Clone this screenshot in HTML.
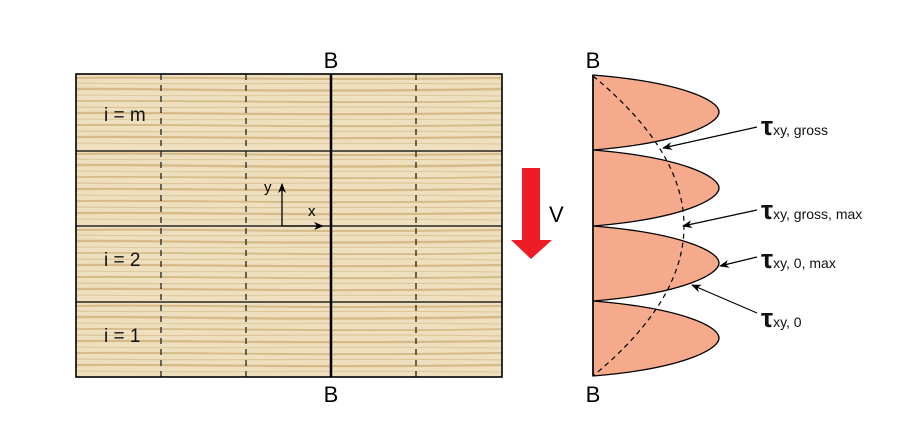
<!DOCTYPE html>
<html><head><meta charset="utf-8"><style>
html,body{margin:0;padding:0;background:#fff;}
svg{display:block;font-family:"Liberation Sans",sans-serif;}
</style></head><body>
<svg width="920" height="447" viewBox="0 0 920 447" xmlns="http://www.w3.org/2000/svg">
<defs>
<pattern id="wood" x="76" y="74" width="426" height="76" patternUnits="userSpaceOnUse">
<rect width="426" height="76" fill="#eedfbe"/>
<g fill="none" stroke="#d6bb88" stroke-linecap="round">
<path d="M0,4 C100,2 200,7 426,4" stroke-width="2"/>
<path d="M0,9 C120,11 260,8 426,10" stroke-width="1" opacity="0.7"/>
<path d="M0,15 C80,14 200,19 426,15" stroke-width="2.4"/>
<path d="M0,21 C150,23 280,20 426,22" stroke-width="1.1" opacity="0.6"/>
<path d="M0,27 C100,26 300,30 426,27" stroke-width="1.8"/>
<path d="M0,33 C140,35 250,31 426,34" stroke-width="1.2" opacity="0.7"/>
<path d="M0,39 C90,38 210,42 426,39" stroke-width="2.2"/>
<path d="M0,45 C130,47 270,44 426,46" stroke-width="1.1" opacity="0.6"/>
<path d="M0,51 C110,50 230,54 426,51" stroke-width="1.9"/>
<path d="M0,57 C160,59 290,56 426,58" stroke-width="1.2" opacity="0.7"/>
<path d="M0,63 C100,62 220,66 426,63" stroke-width="2.2"/>
<path d="M0,69 C140,71 260,68 426,70" stroke-width="1.1" opacity="0.6"/>
</g>
</pattern>
<marker id="ah" markerWidth="10" markerHeight="8" refX="9" refY="4" orient="auto" markerUnits="userSpaceOnUse">
<path d="M0,0 L10,4 L0,8 L3,4 z" fill="#000"/>
</marker>
</defs>

<rect x="76" y="74" width="426" height="303" fill="url(#wood)"/>
<g stroke="#000" stroke-width="1.3">
<line x1="76" y1="151" x2="502" y2="151"/>
<line x1="76" y1="226" x2="502" y2="226"/>
<line x1="76" y1="302" x2="502" y2="302"/>
</g>
<g stroke="#222" stroke-width="1.3" stroke-dasharray="6,5">
<line x1="161" y1="74" x2="161" y2="377"/>
<line x1="246" y1="74" x2="246" y2="377"/>
<line x1="416" y1="74" x2="416" y2="377"/>
</g>
<line x1="331" y1="74" x2="331" y2="377" stroke="#000" stroke-width="2.5"/>
<rect x="76" y="74" width="426" height="303" fill="none" stroke="#000" stroke-width="1.6"/>

<text x="331" y="68" font-size="22" text-anchor="middle">B</text>
<text x="331" y="402" font-size="22" text-anchor="middle">B</text>
<text x="104" y="121" font-size="19" fill="#111">i = m</text>
<text x="104" y="266" font-size="19" fill="#111">i = 2</text>
<text x="104" y="342" font-size="19" fill="#111">i = 1</text>

<line x1="282" y1="226" x2="282" y2="184" stroke="#000" stroke-width="1.3" marker-end="url(#ah)"/>
<line x1="282" y1="226" x2="323" y2="226" stroke="#000" stroke-width="1.3" marker-end="url(#ah)"/>
<text x="264" y="192" font-size="15">y</text>
<text x="308" y="216" font-size="15">x</text>

<path d="M522,168 H540 V240 H552 L531,259 L511,240 H522 Z" fill="#ee1c25"/>
<text x="549" y="222" font-size="22">V</text>

<g fill="#f5aa8b" stroke="#000" stroke-width="1.3">
<path d="M593,75 C680,82 719,100 719,112 C719,124 680,143 593,150 Z"/>
<path d="M593,150 C680,157 719,176 719,188 C719,200 680,219 593,226 Z"/>
<path d="M593,226 C680,233 719,251 719,263 C719,275 680,294 593,301 Z"/>
<path d="M593,301 C680,308 719,326 719,338 C719,350 680,369 593,376 Z"/>
</g>
<line x1="593" y1="75" x2="593" y2="376" stroke="#000" stroke-width="1.6"/>
<path d="M593,76 Q775,226 593,376" fill="none" stroke="#000" stroke-width="1.2" stroke-dasharray="5,4"/>
<text x="593" y="68" font-size="22" text-anchor="middle">B</text>
<text x="593" y="402" font-size="22" text-anchor="middle">B</text>

<g stroke="#000" stroke-width="1.2">
<line x1="757" y1="127" x2="663" y2="148" marker-end="url(#ah)"/>
<line x1="757" y1="210" x2="683" y2="226" marker-end="url(#ah)"/>
<line x1="757" y1="257" x2="720" y2="266" marker-end="url(#ah)"/>
<line x1="757" y1="313" x2="692" y2="285" marker-end="url(#ah)"/>
</g>
<g font-size="14" fill="#111">
<text x="761" y="135"><tspan font-size="27" font-weight="bold">τ</tspan>xy, gross</text>
<text x="761" y="219"><tspan font-size="27" font-weight="bold">τ</tspan>xy, gross, max</text>
<text x="761" y="268"><tspan font-size="27" font-weight="bold">τ</tspan>xy, 0, max</text>
<text x="761" y="327"><tspan font-size="27" font-weight="bold">τ</tspan>xy, 0</text>
</g>
</svg>
</body></html>
